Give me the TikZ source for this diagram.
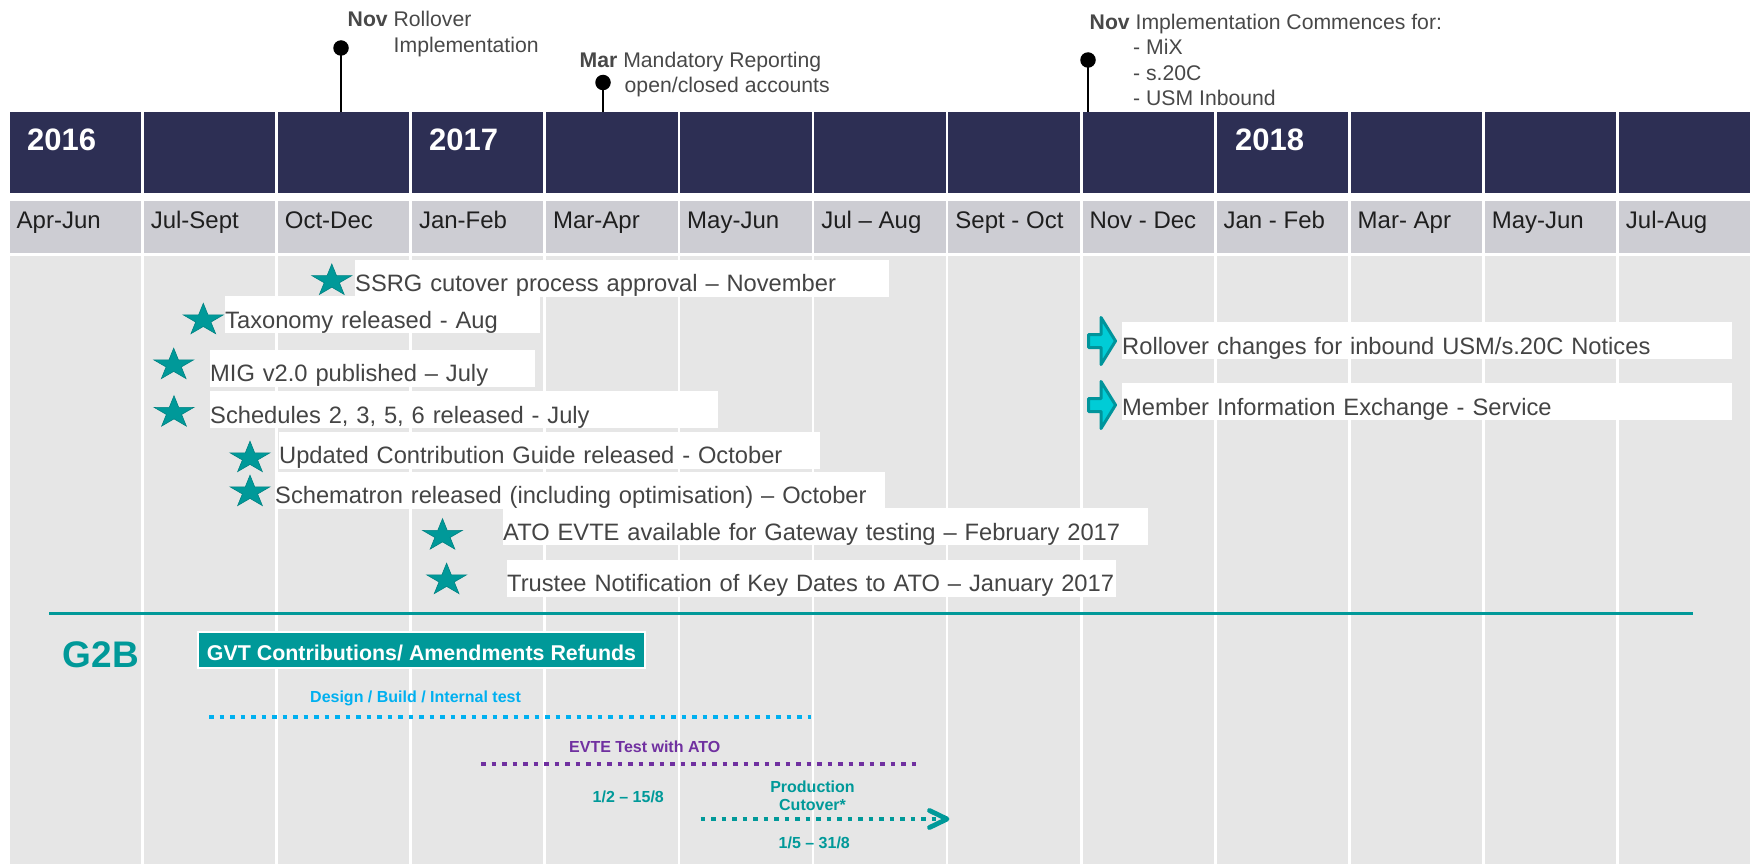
\documentclass[tikz,border=0pt]{standalone}
\usepackage{fontspec}
\setmainfont{Liberation Sans}
\usetikzlibrary{arrows.meta,positioning}

\definecolor{navy}{RGB}{45,47,84}
\definecolor{rowgray}{RGB}{205,205,211}
\definecolor{areagray}{RGB}{230,230,230}
\definecolor{tealc}{RGB}{0,153,153}
\definecolor{arrteal}{RGB}{0,148,155}
\definecolor{arrfill}{RGB}{0,204,214}
\definecolor{cyanc}{RGB}{0,176,240}
\definecolor{purplec}{RGB}{112,48,160}
\definecolor{evgray}{RGB}{68,68,68}
\definecolor{pingray}{RGB}{72,72,72}

\newcommand{\pxfont}[1]{\fontsize{#1pt}{#1pt}\selectfont}

\begin{document}
\begin{tikzpicture} [x=1pt, y=-1pt,
    hdcell/.style={rectangle, fill=navy, anchor=north west, inner sep=0, minimum width=131.4pt, minimum height=81pt},
    mocell/.style={hdcell, fill=rowgray, minimum height=52pt},
    bgcell/.style={hdcell, fill=areagray, minimum height=608pt},
    yeartxt/.style={anchor=base west, inner sep=0, text=white, font=\pxfont{31}\bfseries},
    motxt/.style={anchor=base west, inner sep=0, text=black!88, font=\pxfont{24}},
    pintxt/.style={anchor=base west, inner sep=0, text=pingray, font=\pxfont{21.2}},
    pindot/.style={circle, fill=black, inner sep=0, minimum size=15.5pt},
    pinline/.style={line width=2.6pt},
    evbox/.style={anchor=base west, fill=white, inner sep=0, text height=32pt, text depth=5pt, align=left, text=evgray, font=\pxfont{23.7},
        execute at begin node=\hbox\bgroup, execute at end node=\egroup},
    gvtbox/.style={rectangle, fill=tealc, draw=white, line width=2pt, inner sep=0, minimum width=447pt, minimum height=36pt, text height=20pt, text depth=0pt, text=white, font=\pxfont{21.4}\bfseries},
    barlbl/.style={anchor=base west, inner sep=0, font=\pxfont{16}\bfseries},
    dotline/.style={line width=4pt, dash pattern=on 4.5pt off 6pt},
    chevron/.style={line width=4.8pt, line cap=round, line join=round},
    evstar/.pic={\filldraw[fill=tealc, draw=tealc!85!black, line width=0.6pt]
        (-90:21 and 16.8) -- (-54:8 and 6.4) -- (-18:21 and 16.8) -- (18:8 and 6.4)
        -- (54:21 and 16.8) -- (90:8 and 6.4) -- (126:21 and 16.8) -- (162:8 and 6.4)
        -- (198:21 and 16.8) -- (234:8 and 6.4) -- cycle;},
    evarrow/.pic={\filldraw[fill=arrfill, draw=arrteal, line width=3pt, line join=round]
        (-28.5,-6.5) -- (-16,-6.5) -- (-16,-23.5) -- (-1.5,0) -- (-16,23.5) -- (-16,6.5) -- (-28.5,6.5) -- cycle;}
    ]
    \useasboundingbox (0,0) rectangle (1752,864);
    %Grid
    \foreach \m [count=\i from 0] in {Apr-Jun, Jul-Sept, Oct-Dec, Jan-Feb, Mar-Apr, May-Jun, Jul – Aug, Sept - Oct, Nov - Dec, Jan - Feb, Mar- Apr, May-Jun, Jul-Aug} {
        \node[hdcell] (hd\i) at ({9.5+134.1*\i},112) {};
        \node[mocell] (mo\i) at ({9.5+134.1*\i},201) {};
        \node[bgcell] (bg\i) at ({9.5+134.1*\i},256) {};
        \node[motxt]  (mt\i) at ({16.5+134.1*\i},228) {\m};
    }
    \node[yeartxt] (y16) at (27,150) {2016};
    \node[yeartxt] (y17) at (429,150) {2017};
    \node[yeartxt] (y18) at (1235,150) {2018};
    %Pins
    \node[pindot] (d1) at (341,48) {};
    \node[pindot] (d2) at (603,82.5) {};
    \node[pindot] (d3) at (1088,60) {};
    \draw[pinline] (d1.center) -- (d1.center |- hd2.north);
    \draw[pinline] (d2.center) -- (d2.center |- hd4.north);
    \draw[pinline] (d3.center) -- (d3.center |- hd8.north);
    \node[pintxt] (t1a) at (347.5,26.7) {\textbf{Nov} Rollover};
    \node[pintxt] (t1b) at (393.5,52.7) {Implementation};
    \node[pintxt] (t2a) at (579.5,67.5) {\textbf{Mar} Mandatory Reporting};
    \node[pintxt] (t2b) at (624.5,92.5) {open/closed accounts};
    \node[pintxt] (t3a) at (1089.5,30) {\textbf{Nov} Implementation Commences for:};
    \node[pintxt] (t3b) at (1133,55) {- MiX};
    \node[pintxt] (t3c) at (1133,80.5) {- s.20C};
    \node[pintxt] (t3d) at (1133,106) {- USM Inbound};
    %Events
    \node[evbox, text width=534pt] (e1) at (355,291.7) {SSRG cutover process approval – November};
    \node[evbox, text width=315pt] (e2) at (225,328.3) {Taxonomy released - Aug};
    \node[evbox, text width=325pt] (e3) at (210,381.7) {MIG v2.0 published – July};
    \node[evbox, text width=508pt] (e4) at (210,423.3) {Schedules 2, 3, 5, 6 released - July};
    \node[evbox, text width=541pt] (e5) at (279,463.5) {Updated Contribution Guide released - October};
    \node[evbox, text width=610pt] (e6) at (275,503.5) {Schematron released (including optimisation) – October};
    \node[evbox, text width=645pt] (e7) at (503,540) {ATO EVTE available for Gateway testing – February 2017};
    \node[evbox, text width=609pt] (e8) at (507,591.5) {Trustee Notification of Key Dates to ATO – January 2017};
    \node[evbox, text width=610pt] (e9) at (1122,354) {Rollover changes for inbound USM/s.20C Notices};
    \node[evbox, text width=610pt] (e10) at (1122,415) {Member Information Exchange - Service};
    \pic (s1) at (331.8,280.8) {evstar};
    \pic (s2) at (203.3,320.1) {evstar};
    \pic (s3) at (173.7,365) {evstar};
    \pic (s4) at (174,412.5) {evstar};
    \pic (s5) at (250,458) {evstar};
    \pic (s6) at (250,492) {evstar};
    \pic (s7) at (442.5,535.5) {evstar};
    \pic (s8) at (446.6,580) {evstar};
    \pic (a1) at (1117,341) {evarrow};
    \pic (a2) at (1117,405) {evarrow};
    %G2B
    \coordinate (gl) at (49,613.5);
    \coordinate (gr) at (1693,613.5);
    \draw[tealc, line width=2.5pt] (gl) -- (gr);
    \node[anchor=base west, inner sep=0, text=tealc, font=\pxfont{37}\bfseries] (g2b) at (62.5,667) {G2B};
    \node[gvtbox] (gvt) at (421.5,650) {GVT Contributions/ Amendments Refunds};
    \node[barlbl, text=cyanc] (dbl) at (310,702) {Design / Build / Internal test};
    \node[barlbl, text=purplec] (evl) at (569,752) {EVTE Test with ATO};
    \node[barlbl, text=tealc] (evd) at (592.5,802) {1/2 – 15/8};
    \node[barlbl, anchor=base, text=tealc] (pc1) at (812.5,792.5) {Production};
    \node[barlbl, anchor=base, text=tealc] (pc2) at (812.5,810.7) {Cutover*};
    \node[barlbl, text=tealc] (pcd) at (778.5,848) {1/5 – 31/8};
    %Lines
    \coordinate (dbs) at (209,717);
    \coordinate (dbe) at (811,717);
    \coordinate (evs) at (481,764);
    \coordinate (eve) at (922,764);
    \coordinate (pcs) at (700.5,819);
    \coordinate (pcm) at (936,819);
    \coordinate (pce) at (947,819);
    \coordinate (pca) at (929.5,810.5);
    \coordinate (pcb) at (929.5,827.5);
    \draw[dotline, cyanc] (dbs) -- (dbe);
    \draw[dotline, purplec] (evs) -- (eve);
    \draw[dotline, tealc] (pcs) -- (pcm);
    \draw[chevron, tealc] (pca) -- (pce) -- (pcb);
\end{tikzpicture}
\end{document}
